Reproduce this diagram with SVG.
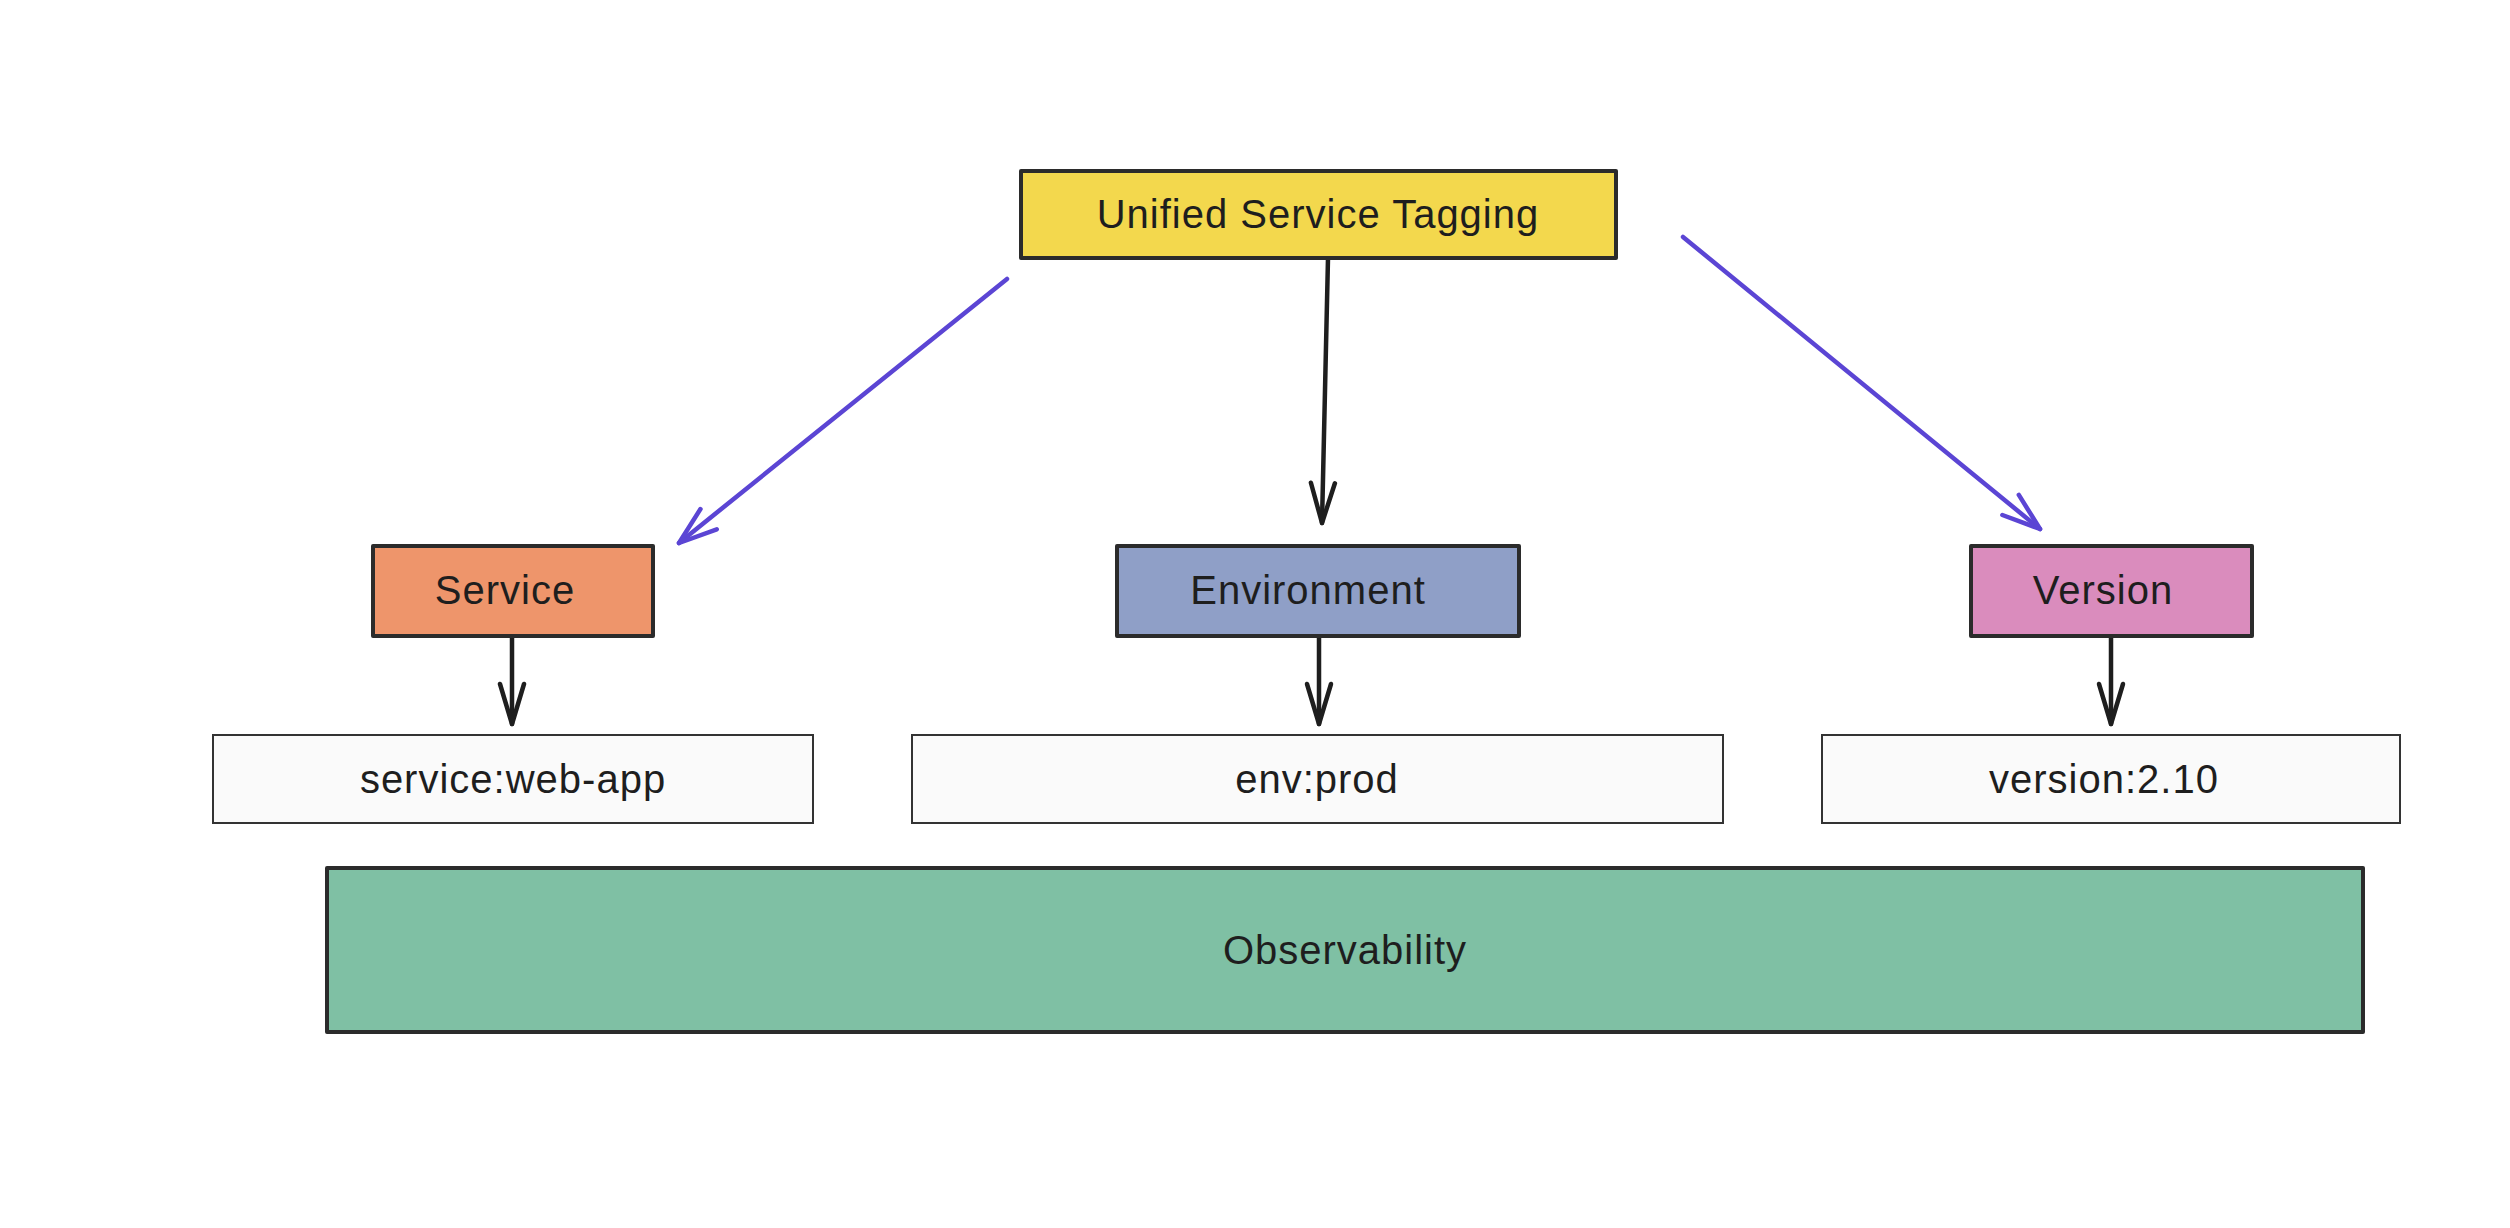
<svg xmlns="http://www.w3.org/2000/svg" width="2510" height="1228" viewBox="0 0 2510 1228">
<style>
.box{stroke:#2b2b2b;stroke-width:4;stroke-linejoin:round}
.tag{fill:#fafafa;stroke:#333;stroke-width:2}
.lbl{font-family:"Liberation Sans",Arial,sans-serif;font-size:40px;letter-spacing:1px;fill:#1e1e1e;text-anchor:middle;dominant-baseline:central}
.purple{stroke:#5b45d4;stroke-width:4.5;fill:none;stroke-linecap:round}
.black{stroke:#1e1e1e;stroke-width:4.5;fill:none;stroke-linecap:round}
</style>
<defs>
<marker id="ap" viewBox="-44 -20 48 40" markerWidth="48" markerHeight="40" refX="0" refY="0" orient="auto" markerUnits="userSpaceOnUse">
<path d="M-38,-13 L0,0 L-38,13" fill="none" stroke="#5b45d4" stroke-width="4.5" stroke-linecap="round" stroke-linejoin="round"/>
</marker>
<marker id="ab" viewBox="-44 -20 48 40" markerWidth="48" markerHeight="40" refX="0" refY="0" orient="auto" markerUnits="userSpaceOnUse">
<path d="M-40,-12 L0,0 L-40,12" fill="none" stroke="#1e1e1e" stroke-width="4.5" stroke-linecap="round" stroke-linejoin="round"/>
</marker>
</defs>
<rect width="2510" height="1228" fill="#ffffff"/>
<g id="connectors">
<path class="purple" d="M1007,279 L679,543" marker-end="url(#ap)"/>
<path class="purple" d="M1683,237 L2040,529" marker-end="url(#ap)"/>
<path class="black" d="M1328,258 L1322,523" marker-end="url(#ab)"/>
<path class="black" d="M512,637 L512,724" marker-end="url(#ab)"/>
<path class="black" d="M1319,637 L1319,724" marker-end="url(#ab)"/>
<path class="black" d="M2111,637 L2111,724" marker-end="url(#ab)"/>
</g>
<g id="node-ust">
<rect class="box" x="1021" y="171" width="595" height="87" fill="#f3d84d"/>
<text class="lbl" x="1318" y="214">Unified Service Tagging</text>
</g>
<g id="node-service">
<rect class="box" x="373" y="546" width="280" height="90" fill="#ee956b"/>
<text class="lbl" x="505" y="590">Service</text>
</g>
<g id="node-environment">
<rect class="box" x="1117" y="546" width="402" height="90" fill="#8f9fc7"/>
<text class="lbl" x="1308" y="590">Environment</text>
</g>
<g id="node-version">
<rect class="box" x="1971" y="546" width="281" height="90" fill="#da8cbd"/>
<text class="lbl" x="2103" y="590">Version</text>
</g>
<g id="tag-service">
<rect class="tag" x="213" y="735" width="600" height="88"/>
<text class="lbl" x="513" y="779">service:web-app</text>
</g>
<g id="tag-env">
<rect class="tag" x="912" y="735" width="811" height="88"/>
<text class="lbl" x="1317" y="779">env:prod</text>
</g>
<g id="tag-version">
<rect class="tag" x="1822" y="735" width="578" height="88"/>
<text class="lbl" x="2104" y="779">version:2.10</text>
</g>
<g id="node-observability">
<rect class="box" x="327" y="868" width="2036" height="164" fill="#7fc0a4"/>
<text class="lbl" x="1345" y="950">Observability</text>
</g>
</svg>
